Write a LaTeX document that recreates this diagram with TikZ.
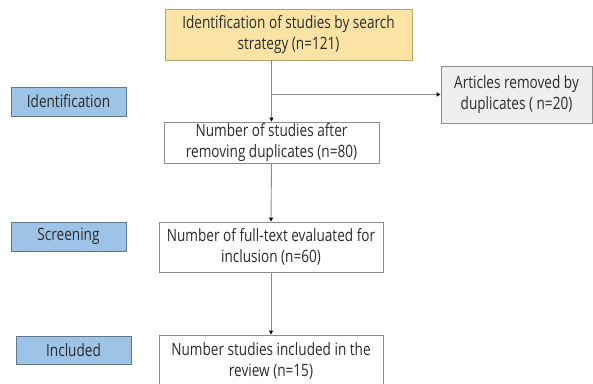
\documentclass[tikz,border=0pt]{standalone}
\usepackage{fontspec}
\setmainfont[FakeStretch=0.8]{Open Sans}
\usetikzlibrary{arrows.meta}
\definecolor{txt}{HTML}{2B2B2B}
\definecolor{yfill}{HTML}{FBE3A6}
\definecolor{ydraw}{HTML}{B8A36A}
\definecolor{bfill}{HTML}{9DC3E6}
\definecolor{bdraw}{HTML}{5F7891}
\definecolor{gfill}{HTML}{EFEFEF}
\definecolor{gdraw}{HTML}{8C8C8C}
\definecolor{wdraw}{HTML}{8C8C8C}
\definecolor{lcol}{HTML}{8A8A8A}
\tikzset{
  box/.style={draw=wdraw, fill=white, line width=0.9pt, align=center, text=txt,
    font=\fontsize{17}{21}\selectfont, inner sep=0pt},
  ybox/.style={box, fill=yfill, draw=ydraw},
  gbox/.style={box, fill=gfill, draw=gdraw},
  stage/.style={box, fill=bfill, draw=bdraw},
  conn/.style={draw=lcol, line width=0.9pt, -{Triangle[length=4pt,width=4pt,fill=black,color=black]}},
}
\begin{document}
\begin{tikzpicture}[x=1pt,y=-1pt]
\useasboundingbox (0,0) rectangle (593,383);
\clip (0,0) rectangle (593,383);
\node[ybox, minimum width=247pt, minimum height=51pt] (top) at (288.5,34.5) {Identification of studies by search\\strategy (n=121)};
\node[gbox, minimum width=151pt, minimum height=57pt] (dup) at (516.5,94.5) {Articles removed by\\duplicates ( n=20)};
\node[box, minimum width=215pt, minimum height=41pt] (after) at (271.5,142.5) {Number of studies after\\removing duplicates (n=80)};
\node[box, minimum width=224pt, minimum height=50pt] (full) at (271,247) {Number of full-text evaluated for\\inclusion (n=60)};
\node[box, minimum width=224pt, minimum height=52pt] (incl) at (271,361) {Number studies included in the\\review (n=15)};
\node[stage, minimum width=115pt, minimum height=29pt] (sid) at (68.5,101.5) {Identification};
\node[stage, minimum width=115pt, minimum height=29pt] (sscr) at (68.5,236.5) {Screening};
\node[stage, minimum width=115pt, minimum height=28pt] (sinc) at (73.5,350) {Included};
\coordinate (topout) at (top.south -| after.north);
\coordinate (branch) at (after.north |- dup.west);
\draw[conn] (topout) -- (after.north);
\draw[conn] (branch) -- (dup.west);
\draw[conn] (after.south) -- (full.north);
\draw[conn] (full.south) -- (incl.north);
\end{tikzpicture}
\end{document}
